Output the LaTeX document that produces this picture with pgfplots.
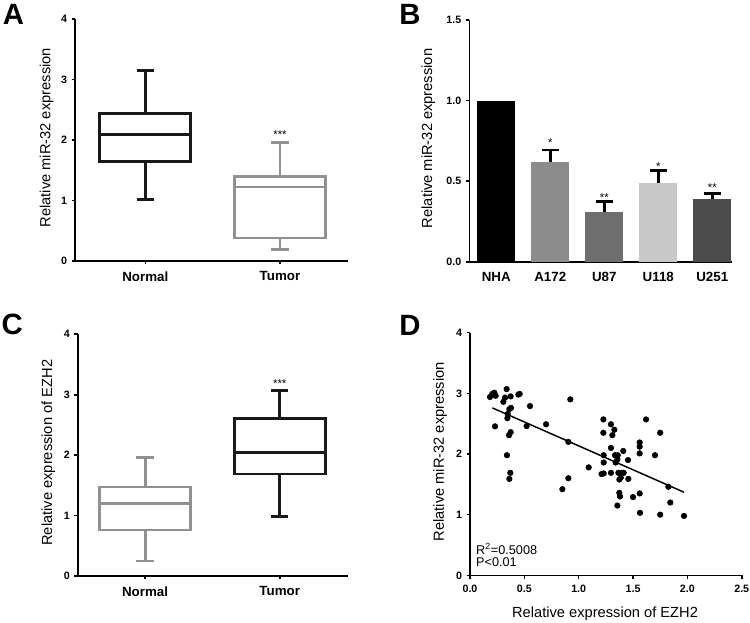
\documentclass[border=0pt]{standalone}
\usepackage{pgfplots}
\pgfplotsset{compat=1.18}
\usepgfplotslibrary{statistics}
\usepackage{fontspec}
\setmainfont{Liberation Sans}
\definecolor{boxgray}{RGB}{145,145,145}
\definecolor{boxblack}{RGB}{25,25,25}
\definecolor{barA}{RGB}{140,140,140}
\definecolor{barB}{RGB}{110,110,110}
\definecolor{barC}{RGB}{200,200,200}
\definecolor{barD}{RGB}{75,75,75}
\tikzset{starnode/.style={font=\fontsize{8.5}{10}\selectfont, anchor=base, inner sep=0pt}}
\begin{document}
\begin{tikzpicture}
\useasboundingbox (0pt,0pt) rectangle (562.5pt,466.5pt);
\pgfplotsset{
  every axis/.append style={
    scale only axis,
    axis x line*=bottom, axis y line*=left,
    axis line style={line width=1.2pt, black},
    every tick/.style={line width=1.2pt, black},
    tick align=outside, major tick length=2.5pt,
    /pgf/number format/assume math mode=true,
    yticklabel style={font=\fontsize{8}{9}\selectfont\bfseries},
    xticklabel style={font=\fontsize{10}{12}\selectfont\bfseries, yshift=-2pt},
    label style={font=\fontsize{11}{13}\selectfont},
    boxplot/draw direction=y,
  },
}
% ---------------- Panel A
\begin{axis}[at={(56.25pt,270.75pt)}, anchor=south west,
  width=204.75pt, height=181.3pt,
  xmin=-0.522, xmax=1.505, ymin=0, ymax=4,
  xtick={0,1}, xticklabels={Normal,Tumor},
  ytick={0,1,2,3,4},
  ylabel={Relative miR-32 expression},
  ylabel style={at={(axis description cs:-0.104,0.51)}, anchor=center},
]
\addplot[draw=boxblack, fill=white, line width=2.2pt,
  boxplot prepared={median=2.097, upper quartile=2.444, lower quartile=1.65,
    upper whisker=3.145, lower whisker=1.015, draw position=0,
    box extend=0.675, whisker extend=0.13}] coordinates {};
\addplot[draw=boxgray, fill=white, line width=2.2pt,
  boxplot prepared={median=1.225, upper quartile=1.396, lower quartile=0.381,
    upper whisker=1.959, lower whisker=0.193, draw position=1,
    box extend=0.675, whisker extend=0.13}] coordinates {};
\node[starnode] at (axis cs:1,2.02) {***};
\end{axis}
% ---------------- Panel B
\begin{axis}[at={(351.98pt,270.2pt)}, anchor=south west,
  width=196.8pt, height=181.3pt,
  xmin=-0.5, xmax=4.36, ymin=0, ymax=1.5,
  xtick={0,1,2,3,4}, xticklabels={NHA,A172,U87,U118,U251},
  xtick style={draw=none},
  ytick={0,0.5,1,1.5},
  yticklabel style={/pgf/number format/.cd, fixed, fixed zerofill, precision=1},
  ylabel={Relative miR-32 expression},
  ylabel style={at={(axis description cs:-0.156,0.51)}, anchor=center},
]
\pgfplotsset{
  mybar/.style={ybar, bar width=0.7, bar shift=0pt, draw=none, fill=#1,
    error bars/.cd, y dir=plus, y explicit,
    error bar style={line width=2pt, black},
    error mark options={line width=2pt, black, mark size=6.4pt, rotate=90}},
}
\addplot[mybar=black] coordinates {(0,1.0)};
\addplot[mybar=barA] coordinates {(1,0.619) +- (0,0.075)};
\addplot[mybar=barB] coordinates {(2,0.309) +- (0,0.064)};
\addplot[mybar=barC] coordinates {(3,0.487) +- (0,0.078)};
\addplot[mybar=barD] coordinates {(4,0.388) +- (0,0.034)};
\node[starnode] at (axis cs:1,0.714) {*};
\node[starnode] at (axis cs:2,0.376) {**};
\node[starnode] at (axis cs:3,0.567) {*};
\node[starnode] at (axis cs:4,0.434) {**};
\end{axis}
% ---------------- Panel C
\begin{axis}[at={(58.3pt,34.5pt)}, anchor=south west,
  width=203pt, height=181.3pt,
  xmin=-0.50, xmax=1.51, ymin=0, ymax=4,
  xtick={0,1}, xticklabels={Normal,Tumor},
  ytick={0,1,2,3,4},
  ylabel={Relative expression of EZH2},
  ylabel style={at={(axis description cs:-0.109,0.51)}, anchor=center},
]
\addplot[draw=boxgray, fill=white, line width=2.2pt,
  boxplot prepared={median=1.203, upper quartile=1.473, lower quartile=0.761,
    upper whisker=1.96, lower whisker=0.248, draw position=0,
    box extend=0.675, whisker extend=0.13}] coordinates {};
\addplot[draw=boxblack, fill=white, line width=2.2pt,
  boxplot prepared={median=2.04, upper quartile=2.61, lower quartile=1.688,
    upper whisker=3.073, lower whisker=0.988, draw position=1,
    box extend=0.675, whisker extend=0.13}] coordinates {};
\node[starnode] at (axis cs:1,3.12) {***};
\end{axis}
% ---------------- Panel D
\begin{axis}[at={(352.5pt,35.0pt)}, anchor=south west,
  width=203.8pt, height=182pt,
  xmin=0, xmax=2.5, ymin=0, ymax=4,
  xtick={0,0.5,1,1.5,2,2.5},
  xticklabel style={font=\fontsize{8}{9}\selectfont\bfseries, yshift=1pt,
    /pgf/number format/.cd, fixed, fixed zerofill, precision=1},
  ytick={0,1,2,3,4},
  xlabel={Relative expression of EZH2},
  xlabel style={at={(axis description cs:0.497,-0.157)}, anchor=center},
  ylabel={Relative miR-32 expression},
  ylabel style={at={(axis description cs:-0.11,0.509)}, anchor=center},
]
\addplot[only marks, mark=*, mark size=2.1pt, black] coordinates {
(0.184,2.94) (0.205,2.99) (0.224,3.01) (0.236,2.96) (0.23,2.456)
(0.307,2.86) (0.322,2.93) (0.337,3.07) (0.347,2.66) (0.344,2.59)
(0.362,2.74) (0.374,2.95) (0.377,2.76) (0.359,2.31) (0.374,2.36)
(0.34,1.98) (0.371,1.69) (0.362,1.59) (0.445,2.98) (0.457,2.99)
(0.552,2.79) (0.521,2.46) (0.70,2.49) (0.923,2.90) (0.905,2.20)
(0.905,1.60) (0.85,1.42) (1.092,1.78) (1.227,2.57) (1.227,2.35)
(1.23,1.98) (1.23,1.86) (1.21,1.67) (1.23,1.68) (1.297,2.49)
(1.31,2.31) (1.328,2.40) (1.297,2.10) (1.334,1.98) (1.359,1.98)
(1.34,1.86) (1.297,1.69) (1.365,1.69) (1.396,1.69) (1.414,1.69)
(1.374,1.58) (1.387,1.61) (1.374,1.36) (1.38,1.30) (1.356,1.15)
(1.41,2.05) (1.454,1.90) (1.457,1.59) (1.5,1.29) (1.561,2.19)
(1.561,2.12) (1.561,2.01) (1.561,1.35) (1.564,1.03) (1.62,2.57)
(1.702,1.98) (1.75,2.35) (1.75,1.00) (1.825,1.46) (1.843,1.20)
(1.969,0.98) (1.356,1.91)
};
\addplot[black, line width=1.1pt] coordinates {(0.206,2.76) (1.969,1.37)};
\node[anchor=base west, inner sep=0pt, font=\fontsize{9.5}{10}\selectfont]
  at (axis cs:0.055,0.346) {R\textsuperscript{2}=0.5008};
\node[anchor=base west, inner sep=0pt, font=\fontsize{9.5}{10}\selectfont]
  at (axis cs:0.055,0.142) {P<0.01};
\end{axis}
% ---------------- Panel letters
\node[font=\fontsize{22}{24}\selectfont\bfseries] at (10.1pt,456pt) {A};
\node[font=\fontsize{22}{24}\selectfont\bfseries] at (307.5pt,456pt) {B};
\node[font=\fontsize{22}{24}\selectfont\bfseries] at (9.1pt,223.5pt) {C};
\node[font=\fontsize{22}{24}\selectfont\bfseries] at (307.5pt,222.75pt) {D};
\end{tikzpicture}
\end{document}
